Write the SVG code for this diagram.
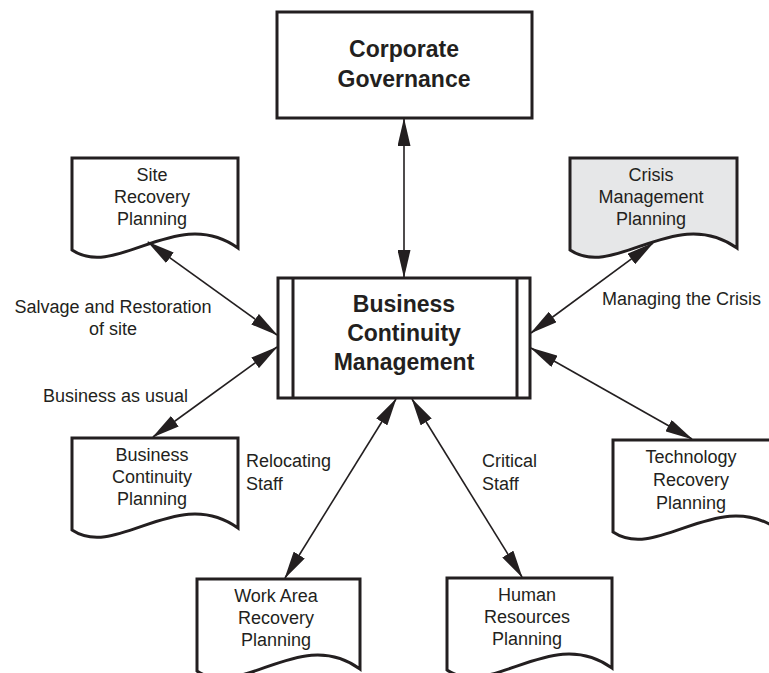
<svg xmlns="http://www.w3.org/2000/svg" width="769" height="673" viewBox="0 0 769 673">
  <style>
    .box { fill: #ffffff; stroke: #231f20; stroke-width: 3; }
    .doc { fill: #ffffff; stroke: #231f20; stroke-width: 3; stroke-linejoin: miter; }
    .shaded { fill: #e6e7e8; }
    .title { font-family: "Liberation Sans", Arial, sans-serif; font-weight: bold; font-size: 23px; fill: #231f20; text-anchor: middle; }
    .label { font-family: "Liberation Sans", Arial, sans-serif; font-size: 18px; fill: #231f20; text-anchor: middle; }
    .note { font-family: "Liberation Sans", Arial, sans-serif; font-size: 18px; fill: #231f20; }
    .link { fill: none; stroke: #231f20; stroke-width: 1.6; marker-start: url(#head); marker-end: url(#head); }
  </style>
  <defs>
    <marker id="head" markerUnits="userSpaceOnUse" markerWidth="28" markerHeight="13" refX="27" refY="6.5" orient="auto-start-reverse">
      <path d="M0,0 L28,6.5 L0,13 Z" fill="#231f20"/>
    </marker>
  </defs>

  <rect width="769" height="673" fill="#ffffff"/>

  <!-- Top node -->
  <g id="corporate-governance">
    <rect class="box" x="277" y="12" width="255" height="106"/>
    <text class="title" x="404" y="57">Corporate</text>
    <text class="title" x="404" y="87">Governance</text>
  </g>

  <!-- Central node (predefined-process frame) -->
  <g id="business-continuity-management">
    <rect class="box" x="278" y="278" width="252" height="120"/>
    <line x1="293" y1="278" x2="293" y2="398" stroke="#231f20" stroke-width="3"/>
    <line x1="517" y1="278" x2="517" y2="398" stroke="#231f20" stroke-width="3"/>
    <text class="title" x="404" y="312">Business</text>
    <text class="title" x="404" y="341">Continuity</text>
    <text class="title" x="404" y="370">Management</text>
  </g>

  <!-- Document-shaped plan nodes: flat top, wavy bottom -->
  <g id="site-recovery-planning">
    <path class="doc" d="M72,158 H238 V248 C177,204 117,280 72,250 Z"/>
    <text class="label" x="152" y="181">Site</text>
    <text class="label" x="152" y="203">Recovery</text>
    <text class="label" x="152" y="225">Planning</text>
  </g>

  <g id="crisis-management-planning">
    <path class="doc shaded" d="M570,158 H737 V248 C675,204 615,280 570,250 Z"/>
    <text class="label" x="651" y="181">Crisis</text>
    <text class="label" x="651" y="203">Management</text>
    <text class="label" x="651" y="225">Planning</text>
  </g>

  <g id="business-continuity-planning">
    <path class="doc" d="M72,438 H238 V528 C177,484 117,560 72,530 Z"/>
    <text class="label" x="152" y="461">Business</text>
    <text class="label" x="152" y="483">Continuity</text>
    <text class="label" x="152" y="505">Planning</text>
  </g>

  <g id="technology-recovery-planning">
    <path class="doc" d="M613,440 H779 V530 C718,486 658,562 613,532 Z"/>
    <text class="label" x="691" y="463">Technology</text>
    <text class="label" x="691" y="486">Recovery</text>
    <text class="label" x="691" y="509">Planning</text>
  </g>

  <g id="work-area-recovery-planning">
    <path class="doc" d="M197,579 H360 V669 C300,625 241,701 197,671 Z"/>
    <text class="label" x="276" y="602">Work Area</text>
    <text class="label" x="276" y="624">Recovery</text>
    <text class="label" x="276" y="646">Planning</text>
  </g>

  <g id="human-resources-planning">
    <path class="doc" d="M447,578 H612 V668 C551,624 492,700 447,670 Z"/>
    <text class="label" x="527" y="601">Human</text>
    <text class="label" x="527" y="623">Resources</text>
    <text class="label" x="527" y="645">Planning</text>
  </g>

  <!-- Two-way connectors -->
  <g id="connectors">
    <line class="link" x1="404" y1="119" x2="404" y2="277"/>
    <line class="link" x1="148" y1="242" x2="277" y2="335"/>
    <line class="link" x1="153" y1="437" x2="277" y2="347"/>
    <line class="link" x1="653" y1="243" x2="531" y2="333"/>
    <line class="link" x1="692" y1="439" x2="531" y2="348"/>
    <line class="link" x1="285" y1="578" x2="396" y2="399"/>
    <line class="link" x1="522" y1="577" x2="412" y2="399"/>
  </g>

  <!-- Connector labels -->
  <g id="labels">
    <text class="label" x="113" y="313">Salvage and Restoration</text>
    <text class="label" x="113" y="335">of site</text>
    <text class="note" x="43" y="402">Business as usual</text>
    <text class="note" x="602" y="305">Managing the Crisis</text>
    <text class="note" x="246" y="467">Relocating</text>
    <text class="note" x="246" y="490">Staff</text>
    <text class="note" x="482" y="467">Critical</text>
    <text class="note" x="482" y="490">Staff</text>
  </g>
</svg>
